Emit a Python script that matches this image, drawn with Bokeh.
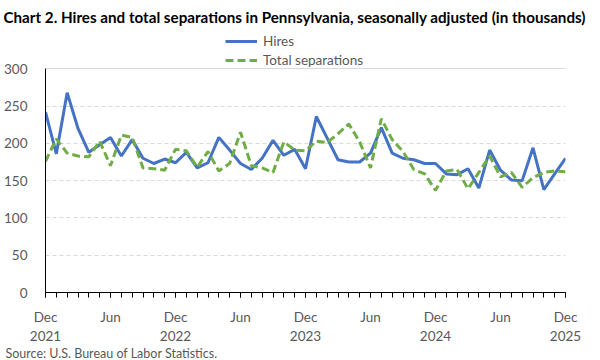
from bokeh.plotting import figure
from bokeh.models import (FixedTicker, LinearAxis, Legend, LegendItem, Title, Range1d, Grid)
from bokeh.embed import file_html
from bokeh.resources import INLINE

months = ["Dec", "Jan", "Feb", "Mar", "Apr", "May", "Jun", "Jul", "Aug", "Sep", "Oct", "Nov"] * 4 + ["Dec"]
years = ["2021", "2022", "2023", "2024", "2025"]
hires = [242, 186, 268, 220, 188, 198, 208, 183, 205, 180, 173, 179, 174,
         188, 167, 174, 208, 191, 173, 165, 180, 204, 184, 192, 166,
         236, 207, 178, 175, 175, 187, 221, 187, 180, 178, 173, 173,
         159, 158, 166, 140, 191, 164, 151, 150, 194, 138, 159, 180]
separations = [176, 206, 187, 183, 182, 203, 170, 211, 208, 167, 166, 164, 192,
               190, 168, 189, 163, 173, 215, 170, 167, 161, 202, 191, 190,
               203, 201, 213, 226, 202, 167, 233, 205, 189, 165, 159, 137,
               163, 165, 139, 161, 183, 155, 161, 141, 154, 161, 163, 162]
y_ticks = [0, 50, 100, 150, 200, 250, 300]

FONT = "Lato"
GREY = "#595959"
BORDER = "#D9D9D9"
LBL = "13.5px"
idx = list(range(len(hires)))
x_max = len(hires) - 1
y_max = y_ticks[-1]

p = figure(width=600, height=360, output_backend="svg", toolbar_location=None,
           x_range=Range1d(0, x_max), y_range=Range1d(0, 350),
           min_border_left=45, min_border_right=35, min_border_top=30, min_border_bottom=64)
p.outline_line_color = None

p.title.text = "Chart 2. Hires and total separations in Pennsylvania, seasonally adjusted (in thousands)"
p.title.align = "left"
p.title.offset = -42
p.title.text_font = FONT
p.title.text_font_style = "bold"
p.title.text_font_size = "15.2px"
p.title.text_color = "black"
p.title.standoff = 11

r1 = p.line(idx, hires, line_color="#4472C4", line_width=3)
r2 = p.line(idx, separations, line_color="#70AD47", line_width=3, line_dash="8 4")

# y axis
p.yaxis.ticker = FixedTicker(ticks=y_ticks)
p.yaxis.bounds = (0, y_max)
p.yaxis.major_tick_line_color = None
p.yaxis.minor_tick_line_color = None
p.yaxis.axis_line_color = "black"
p.yaxis.major_label_text_font = FONT
p.yaxis.major_label_text_font_size = LBL
p.yaxis.major_label_text_color = GREY
p.yaxis.major_label_standoff = 12

p.ygrid.ticker = FixedTicker(ticks=y_ticks[:-1])
p.ygrid.grid_line_color = BORDER
p.ygrid.grid_line_dash = "4 3"
p.xgrid.grid_line_color = None

# plot-area border (top and right)
p.add_layout(Grid(dimension=1, ticker=FixedTicker(ticks=[y_max]), bounds=(0, x_max),
                  grid_line_color=BORDER))
p.add_layout(Grid(dimension=0, ticker=FixedTicker(ticks=[x_max]), bounds=(0, y_max),
                  grid_line_color=BORDER))

# x axis (months)
major = [i for i in idx if i % 6 == 0]
xa = p.xaxis[0]
xa.ticker = FixedTicker(ticks=major, minor_ticks=idx)
xa.major_label_overrides = {i: months[i] for i in major}
xa.axis_line_color = "black"
xa.major_tick_line_color = "black"
xa.minor_tick_line_color = "black"
xa.major_tick_in = 0
xa.major_tick_out = 5
xa.minor_tick_in = 0
xa.minor_tick_out = 5
xa.major_label_text_font = FONT
xa.major_label_text_font_size = LBL
xa.major_label_text_color = GREY
xa.major_label_standoff = 11

# x axis (years)
ya = LinearAxis(ticker=FixedTicker(ticks=[i for i in idx if i % 12 == 0]),
                major_label_overrides={i: years[i // 12] for i in idx if i % 12 == 0},
                axis_line_color=None, major_tick_line_color=None, minor_tick_line_color=None,
                major_label_text_font=FONT, major_label_text_font_size=LBL,
                major_label_text_color=GREY, major_label_standoff=-3)
p.add_layout(ya, "below")

source = Title(text="Source: U.S. Bureau of Labor Statistics.", align="left", offset=-40,
               text_font=FONT, text_font_size="12.5px", text_color=GREY,
               text_font_style="normal", standoff=0)
p.add_layout(source, "below")

legend = Legend(items=[LegendItem(label="Hires", renderers=[r1]),
                       LegendItem(label="Total separations", renderers=[r2])],
                location=(180, 224), orientation="vertical",
                background_fill_alpha=0, border_line_color=None,
                label_text_font=FONT, label_text_font_size=LBL, label_text_color=GREY,
                glyph_width=32, glyph_height=12, spacing=3, padding=0, margin=0,
                label_standoff=6, label_height=15)
p.add_layout(legend, "center")

open("out.html", "w").write(file_html(p, INLINE))
